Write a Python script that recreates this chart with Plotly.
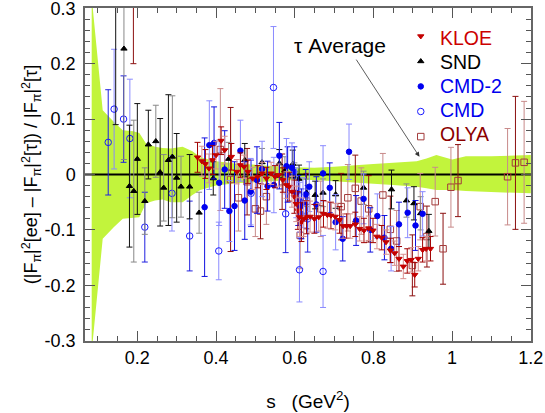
import plotly.graph_objects as go
import numpy as np

XMIN, XMAX = 0.067, 1.2005
YMIN, YMAX = -0.3005, 0.3005

# tau average error band
band_s  = [0.084, 0.112, 0.14, 0.163, 0.19, 0.205, 0.222, 0.245, 0.264, 0.285, 0.315, 0.34, 0.36, 0.40, 0.45, 0.50, 0.55, 0.60, 0.65, 0.70, 0.75, 0.80, 0.85, 0.91, 0.935, 0.96, 1.0, 1.035, 1.1, 1.2]
band_hi = [0.32, 0.116, 0.095, 0.080, 0.078, 0.075, 0.056, 0.050, 0.048, 0.047, 0.050, 0.042, 0.031, 0.024, 0.020, 0.017, 0.015, 0.013, 0.012, 0.014, 0.017, 0.019, 0.021, 0.024, 0.029, 0.035, 0.027, 0.033, 0.033, 0.035]
band_lo = [-0.32, -0.116, -0.095, -0.080, -0.078, -0.077, -0.052, -0.047, -0.045, -0.050, -0.050, -0.037, -0.028, -0.020, -0.016, -0.014, -0.012, -0.010, -0.010, -0.012, -0.014, -0.017, -0.019, -0.022, -0.025, -0.028, -0.028, -0.030, -0.032, -0.034]

kloe_s = [0.353, 0.364, 0.373, 0.382, 0.391, 0.400, 0.413, 0.422, 0.439, 0.453, 0.462, 0.471, 0.481, 0.493, 0.506, 0.517, 0.528, 0.540, 0.550, 0.559, 0.570, 0.579, 0.586, 0.593, 0.599, 0.604, 0.608, 0.612, 0.617, 0.623, 0.630, 0.639, 0.650, 0.661, 0.673, 0.683, 0.692, 0.703, 0.714, 0.723, 0.732, 0.741, 0.754, 0.765, 0.776, 0.788, 0.799, 0.809, 0.821, 0.832, 0.843, 0.854, 0.865, 0.876, 0.886, 0.896, 0.905, 0.914, 0.925, 0.934, 0.945]
kloe_v = [0.031, 0.024, 0.019, 0.011, 0.026, 0.035, 0.061, 0.044, 0.032, 0.005, 0.017, 0.014, 0.005, -0.007, -0.004, 0.002, -0.007, 0.002, -0.004, -0.001, -0.010, -0.019, -0.022, -0.031, -0.040, -0.053, -0.065, -0.077, -0.086, -0.080, -0.077, -0.076, -0.080, -0.077, -0.071, -0.073, -0.074, -0.076, -0.082, -0.093, -0.093, -0.093, -0.090, -0.098, -0.101, -0.097, -0.101, -0.112, -0.114, -0.122, -0.137, -0.142, -0.152, -0.166, -0.156, -0.154, -0.181, -0.152, -0.136, -0.134, -0.134]
kloe_e = [0.027, 0.027, 0.026, 0.026, 0.026, 0.025, 0.025, 0.025, 0.024, 0.022, 0.022, 0.021, 0.021, 0.020, 0.020, 0.020, 0.020, 0.020, 0.020, 0.020, 0.022, 0.024, 0.026, 0.028, 0.030, 0.032, 0.034, 0.035, 0.035, 0.032, 0.030, 0.028, 0.026, 0.025, 0.024, 0.024, 0.024, 0.024, 0.024, 0.022, 0.022, 0.022, 0.022, 0.022, 0.022, 0.022, 0.022, 0.022, 0.022, 0.022, 0.022, 0.022, 0.022, 0.022, 0.022, 0.022, 0.022, 0.022, 0.022, 0.022, 0.022]

snd_s = [0.145, 0.166, 0.180, 0.191, 0.200, 0.219, 0.228, 0.247, 0.258, 0.267, 0.279, 0.289, 0.300, 0.311, 0.333, 0.357, 0.393, 0.432, 0.473, 0.517, 0.561, 0.575, 0.595, 0.599, 0.611, 0.630, 0.652, 0.672, 0.704, 0.775, 0.846, 0.884, 0.903, 0.920, 0.941]
snd_v = [0.330, 0.227, -0.021, -0.030, 0.028, -0.048, 0.054, 0.060, 0.004, -0.024, 0.026, 0.032, -0.006, -0.022, -0.022, -0.069, -0.007, 0.028, 0.026, 0.022, 0.020, 0.007, 0.019, -0.004, -0.008, -0.033, -0.037, -0.033, -0.036, -0.024, -0.027, -0.047, -0.052, -0.070, -0.102]
snd_e = [0.240, 0.200, 0.110, 0.128, 0.100, 0.060, 0.062, 0.065, 0.097, 0.060, 0.118, 0.110, 0.080, 0.055, 0.058, 0.037, 0.030, 0.030, 0.030, 0.025, 0.025, 0.025, 0.025, 0.025, 0.025, 0.025, 0.025, 0.025, 0.025, 0.030, 0.035, 0.030, 0.030, 0.030, 0.030]

cmd2_s = [0.371, 0.383, 0.395, 0.408, 0.422, 0.434, 0.447, 0.462, 0.473, 0.488, 0.504, 0.517, 0.531, 0.547, 0.561, 0.579, 0.582, 0.593, 0.599, 0.604, 0.609, 0.613, 0.617, 0.621, 0.628, 0.637, 0.655, 0.672, 0.689, 0.704, 0.722, 0.738, 0.756, 0.775, 0.792, 0.810, 0.828, 0.845, 0.865, 0.887, 0.907, 0.925]
cmd2_v = [-0.059, 0.053, 0.057, -0.015, 0.009, -0.066, -0.057, 0.043, -0.047, -0.031, -0.010, 0.010, -0.021, -0.019, 0.034, 0.015, 0.000, 0.012, 0.005, -0.033, -0.047, -0.059, -0.071, -0.051, -0.036, -0.022, -0.054, 0.002, -0.024, -0.086, -0.116, 0.041, -0.083, -0.044, -0.100, -0.075, -0.114, -0.134, -0.090, -0.069, -0.092, -0.071]
cmd2_e = [0.125, 0.080, 0.065, 0.077, 0.070, 0.055, 0.080, 0.055, 0.070, 0.060, 0.060, 0.050, 0.045, 0.050, 0.060, 0.050, 0.050, 0.045, 0.045, 0.045, 0.045, 0.045, 0.045, 0.045, 0.045, 0.045, 0.050, 0.050, 0.045, 0.050, 0.040, 0.050, 0.045, 0.045, 0.040, 0.040, 0.040, 0.040, 0.040, 0.045, 0.045, 0.040]

cmd_s = [0.126, 0.141, 0.165, 0.181, 0.219, 0.288, 0.333, 0.407, 0.489, 0.546, 0.577, 0.612, 0.633, 0.672]
cmd_v = [0.058, 0.118, 0.100, 0.065, -0.095, -0.034, -0.111, -0.138, -0.034, 0.157, -0.071, -0.172, -0.080, -0.175]
cmd_e = [0.095, 0.108, 0.078, 0.107, 0.063, 0.068, 0.063, 0.052, 0.060, 0.110, 0.070, 0.058, 0.060, 0.065]

olya_s = [0.190, 0.411, 0.437, 0.457, 0.479, 0.500, 0.513, 0.528, 0.568, 0.614, 0.630, 0.666, 0.718, 0.735, 0.754, 0.769, 0.788, 0.824, 0.843, 0.859, 0.899, 0.919, 0.936, 0.957, 0.977, 0.997, 1.015, 1.141, 1.161, 1.183]
olya_v = [0.360, 0.045, -0.009, -0.042, -0.013, -0.062, -0.066, -0.040, -0.013, -0.110, -0.048, -0.062, -0.058, -0.042, -0.025, -0.048, -0.062, -0.037, -0.099, -0.120, -0.164, -0.058, -0.112, -0.049, -0.134, -0.023, -0.011, -0.004, 0.021, 0.022]
olya_e = [0.160, 0.110, 0.130, 0.060, 0.060, 0.050, 0.050, 0.050, 0.050, 0.060, 0.050, 0.050, 0.060, 0.060, 0.060, 0.060, 0.060, 0.075, 0.060, 0.055, 0.055, 0.060, 0.055, 0.062, 0.064, 0.072, 0.065, 0.087, 0.120, 0.110]

legend_names = ["KLOE", "SND", "CMD-2", "CMD", "OLYA"]
legend_colors = ["#cc0000", "black", "#0000ee", "#0000ee", "#8b0000"]

FONT = "Liberation Sans, Arial, sans-serif"
fig = go.Figure()

# band
fig.add_trace(go.Scatter(
    x=band_s + band_s[::-1], y=band_hi + band_lo[::-1],
    fill="toself", fillcolor="#c2f43c", line=dict(width=0, color="#c2f43c"),
    mode="lines", showlegend=False, hoverinfo="skip"))
# zero line
fig.add_trace(go.Scatter(x=[XMIN, XMAX], y=[0, 0], mode="lines",
                         line=dict(color="black", width=2), showlegend=False, hoverinfo="skip"))

def add_set(name, s, v, e, symbol, mcolor, size, edark, elight, lw=1.0):
    s = np.asarray(s); v = np.asarray(v); e = np.asarray(e)
    idx = np.arange(len(s))
    for k, (mask, ec) in enumerate([(idx % 2 == 0, edark), (idx % 2 == 1, elight)]):
        fig.add_trace(go.Scatter(
            x=s[mask], y=v[mask], mode="markers",
            name=" ",
            showlegend=(k == 0),
            legendrank=legend_names.index(name) + 1,
            marker=dict(symbol=symbol, color=mcolor, size=size,
                        line=dict(color=mcolor, width=lw)),
            error_y=dict(type="data", array=e[mask], color=ec, thickness=1.0, width=3),
        ))

add_set("OLYA", olya_s, olya_v, olya_e, "square-open", "#a33a3a", 6.5, "#8b1010", "#c88a8a")
add_set("CMD", cmd_s, cmd_v, cmd_e, "circle-open", "#1a1aff", 6.5, "#2020e0", "#8a8aff")
add_set("SND", snd_s, snd_v, snd_e, "triangle-up", "black", 5.5, "#111111", "#888888")
add_set("CMD-2", cmd2_s, cmd2_v, cmd2_e, "circle", "#0000f0", 5.5, "#1010e0", "#8a8aff")
add_set("KLOE", kloe_s, kloe_v, kloe_e, "triangle-down", "#c40000", 5.5, "#a00000", "#d89090")

# legend labels (coloured text next to the legend symbols)
for i, (n, c) in enumerate(zip(legend_names, legend_colors)):
    fig.add_annotation(x=0.792, y=0.910 - i * 0.0722, xref="paper", yref="paper",
                       xanchor="left", yanchor="middle", text=n, showarrow=False,
                       font=dict(family=FONT, size=19.5, color=c))

fig.add_annotation(x=0.917, y=0.032, ax=0.754, ay=0.21, xref="x", yref="y", axref="x", ayref="y",
                   text="", showarrow=True, arrowhead=2, arrowsize=1.2, arrowwidth=0.8, arrowcolor="#333")
fig.add_annotation(x=0.715, y=0.233, xref="x", yref="y", text="τ Average", showarrow=False,
                   font=dict(family=FONT, size=21, color="black"))

axis_common = dict(showline=True, linecolor="#666", linewidth=1.5, mirror="allticks",
                   ticks="inside", tickcolor="#555", tickwidth=1, showgrid=False, zeroline=False,
                   automargin=False, ticklabeloverflow="allow",
                   tickfont=dict(family=FONT, size=18, color="black"))

fig.update_xaxes(range=[XMIN, XMAX], tickvals=[0.2, 0.4, 0.6, 0.8, 1.0, 1.2],
                 ticktext=["0.2", "0.4", "0.6", "0.8", "1", "1.2"], ticklen=10,
                 minor=dict(dtick=0.05, tick0=0.0, ticks="inside", ticklen=5, tickcolor="#555"),
                 title=dict(text="s   (GeV<sup>2</sup>)", font=dict(family=FONT, size=19), standoff=27),
                 **axis_common)
fig.update_yaxes(range=[YMIN, YMAX], tickvals=[-0.3, -0.2, -0.1, 0, 0.1, 0.2, 0.3],
                 ticktext=["-0.3", "-0.2", "-0.1", "0", "0.1", "0.2", "0.3"], ticklen=10,
                 minor=dict(dtick=0.02, tick0=0.0, ticks="inside", ticklen=5, tickcolor="#555"),
                 ticklabelstandoff=4,
                 title=dict(text="(|F<sub>π</sub>|<sup>2</sup>[ee] – |F<sub>π</sub>|<sup>2</sup>[τ]) / |F<sub>π</sub>|<sup>2</sup>[τ]",
                            font=dict(family=FONT, size=18), standoff=2),
                 **axis_common)

fig.update_layout(width=545, height=413, margin=dict(l=85, r=14, t=8, b=72),
                  plot_bgcolor="white", paper_bgcolor="white",
                  font=dict(family=FONT, color="black"),
                  legend=dict(x=0.708, y=0.968, xanchor="left", yanchor="top", bgcolor="rgba(0,0,0,0)",
                              font=dict(family=FONT, size=17), itemwidth=30, tracegroupgap=0),
                  )
fig.write_html("out.html", config={"displayModeBar": False},
               post_script="document.body.style.margin='0';document.body.style.padding='0';")
